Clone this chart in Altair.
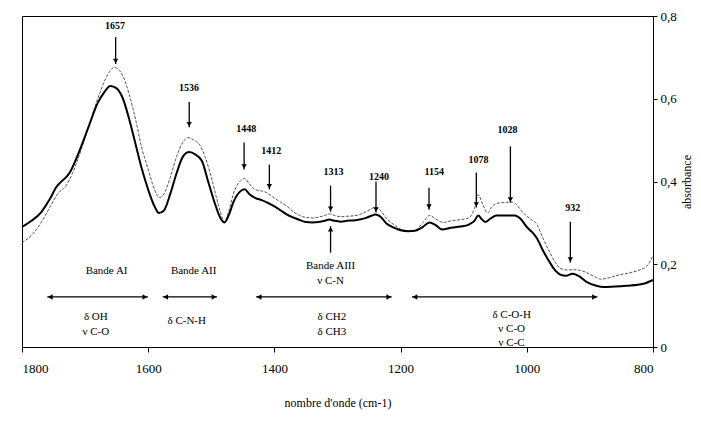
import altair as alt
import pandas as pd

# ---- spectra (wavenumber cm-1, absorbance) ----
wn_thick = [1800, 1785, 1770, 1755, 1745, 1739, 1725, 1710, 1695, 1680, 1670, 1660, 1650, 1640, 1630,
            1620, 1610, 1600, 1590, 1583, 1575, 1565, 1555, 1545, 1535, 1525, 1515, 1505, 1495, 1485,
            1479, 1472, 1465, 1455, 1447, 1440, 1430, 1420, 1410, 1400, 1390, 1380, 1370, 1360, 1350,
            1340, 1330, 1320, 1313, 1305, 1295, 1285, 1275, 1265, 1255, 1245, 1240, 1232, 1222, 1210,
            1200, 1188, 1177, 1165, 1154, 1145, 1134, 1120, 1105, 1092, 1083, 1077, 1072, 1066, 1058,
            1048, 1035, 1019, 1010, 1000, 990, 984, 975, 963, 955, 947, 938, 928, 918, 904,
            890, 878, 860, 842, 815, 800]
abs_thick = [0.290, 0.305, 0.325, 0.360, 0.388, 0.398, 0.420, 0.470, 0.530, 0.590, 0.615, 0.631, 0.625, 0.600, 0.550,
             0.490, 0.430, 0.380, 0.340, 0.324, 0.330, 0.370, 0.420, 0.460, 0.471, 0.465, 0.450, 0.400, 0.350, 0.310,
             0.301, 0.320, 0.350, 0.375, 0.381, 0.370, 0.360, 0.355, 0.348, 0.340, 0.330, 0.320, 0.313, 0.307, 0.302,
             0.301, 0.302, 0.305, 0.308, 0.305, 0.303, 0.305, 0.306, 0.308, 0.312, 0.318, 0.320, 0.315, 0.298, 0.288,
             0.282, 0.280, 0.281, 0.290, 0.301, 0.295, 0.284, 0.288, 0.291, 0.296, 0.305, 0.318, 0.310, 0.302, 0.310,
             0.318, 0.318, 0.318, 0.310, 0.290, 0.275, 0.263, 0.235, 0.203, 0.185, 0.175, 0.172, 0.177, 0.172, 0.156,
             0.148, 0.145, 0.146, 0.148, 0.153, 0.162]

wn_thin = [1800, 1785, 1770, 1755, 1742, 1730, 1720, 1710, 1695, 1680, 1670, 1660, 1654, 1648, 1640,
           1630, 1620, 1610, 1600, 1590, 1582, 1575, 1565, 1555, 1545, 1537, 1528, 1519, 1510, 1500,
           1490, 1482, 1479, 1472, 1465, 1455, 1447, 1440, 1430, 1420, 1412, 1400, 1390, 1380, 1370,
           1360, 1350, 1340, 1330, 1320, 1313, 1305, 1295, 1285, 1275, 1265, 1255, 1245, 1240, 1232,
           1222, 1210, 1200, 1188, 1177, 1165, 1154, 1145, 1132, 1120, 1105, 1092, 1083, 1077, 1070,
           1062, 1055, 1044, 1023, 1015, 1008, 995, 984, 975, 963, 955, 947, 935, 925, 915,
           904, 890, 883, 870, 852, 835, 820, 810, 800]
abs_thin = [0.252, 0.270, 0.300, 0.340, 0.373, 0.390, 0.420, 0.460, 0.530, 0.600, 0.640, 0.668, 0.676, 0.672, 0.655,
            0.610, 0.550, 0.480, 0.430, 0.380, 0.361, 0.370, 0.410, 0.460, 0.495, 0.506, 0.500, 0.490, 0.460, 0.410,
            0.350, 0.310, 0.302, 0.330, 0.370, 0.400, 0.407, 0.395, 0.380, 0.377, 0.373, 0.360, 0.350, 0.340, 0.327,
            0.318, 0.313, 0.312, 0.314, 0.318, 0.322, 0.318, 0.315, 0.316, 0.317, 0.320, 0.327, 0.335, 0.338, 0.330,
            0.310, 0.295, 0.285, 0.280, 0.282, 0.300, 0.318, 0.310, 0.301, 0.305, 0.308, 0.312, 0.335, 0.368, 0.345,
            0.324, 0.340, 0.348, 0.350, 0.342, 0.328, 0.310, 0.296, 0.265, 0.227, 0.205, 0.190, 0.186, 0.187, 0.185,
            0.179, 0.168, 0.164, 0.167, 0.175, 0.180, 0.187, 0.195, 0.220]

# ---- peak annotations ----
peak_labels = ["1657", "1536", "1448", "1412", "1313", "1240", "1154", "1078", "1028", "932"]
peak_label_wn = [1652.7, 1535.4, 1444.7, 1405, 1306.3, 1234.2, 1146.7, 1076.7, 1030.5, 927]
peak_label_abs = [0.777, 0.625, 0.526, 0.473, 0.422, 0.410, 0.422, 0.451, 0.524, 0.335]
arrow_wn = [1651.6, 1535, 1448, 1408, 1311, 1239, 1155, 1080, 1026, 931]
arrow_top = [0.749, 0.592, 0.494, 0.441, 0.390, 0.400, 0.385, 0.422, 0.485, 0.303]
arrow_tip = [0.684, 0.531, 0.429, 0.381, 0.327, 0.325, 0.332, 0.337, 0.349, 0.204]

# upward arrow (Bande AIII)
up_wn = [1311]
up_bottom = [0.228]
up_tip = [0.292]

# band ranges (double arrows)
band_left = [1760, 1577, 1429, 1182]
band_right = [1600.5, 1491, 1214, 888]
band_abs = [0.121, 0.121, 0.121, 0.121]

# band texts
text_lines = ["Bande AI", "Bande AII", "Bande AIII", "ν C-N", "δ OH", "ν C-O", "δ C-N-H",
              "δ CH2", "δ CH3", "δ C-O-H", "ν C-O", "ν C-C"]
text_wn = [1666, 1528, 1311, 1311, 1683, 1683, 1539, 1309, 1309, 1024, 1024, 1024]
text_abs = [0.183, 0.183, 0.195, 0.160, 0.073, 0.036, 0.062, 0.073, 0.036, 0.078, 0.044, 0.010]

x_ticks = [1800, 1600, 1400, 1200, 1000, 800]
y_ticks = [0, 0.2, 0.4, 0.6, 0.8]

FONT = "Liberation Serif"

xs = alt.Scale(domain=[800, 1800], reverse=True, nice=False, zero=False)
ys = alt.Scale(domain=[0, 0.8], nice=False, zero=False)

thick_df = pd.DataFrame({"wn": wn_thick, "a": abs_thick})
thin_df = pd.DataFrame({"wn": wn_thin, "a": abs_thin})

x_axis = alt.Axis(values=x_ticks, format="d", title="nombre d'onde (cm-1)", tickSize=5,
                  labelPadding=10, titlePadding=22, labelFontSize=13, titleFontSize=12,
                  labelFont=FONT, titleFont=FONT, titleFontWeight="normal", grid=False,
                  domainColor="black", tickColor="black", labelColor="black", titleColor="black")
y_axis = alt.Axis(values=y_ticks, orient="right", title="absorbance", tickSize=4, labelPadding=3,
                  labelExpr="datum.value == 0 ? '0' : replace(format(datum.value, '.1f'), '.', ',')",
                  titleX=33, titleY=165.5, titleAngle=270, titleAlign="center", titleBaseline="middle",
                  labelFontSize=13, titleFontSize=12, labelFont=FONT, titleFont=FONT,
                  titleFontWeight="normal", grid=False, domainColor="black",
                  tickColor="black", labelColor="black", titleColor="black")


def X(field):
    return alt.X(field, type="quantitative", scale=xs, axis=x_axis)


def Y(field):
    return alt.Y(field, type="quantitative", scale=ys, axis=y_axis)


thin_line = alt.Chart(thin_df).mark_line(color="#555555", strokeWidth=1, strokeDash=[3, 1.5],
                                         interpolate="monotone").encode(x=X("wn"), y=Y("a"))
thick_line = alt.Chart(thick_df).mark_line(color="black", strokeWidth=2,
                                           interpolate="monotone").encode(x=X("wn"), y=Y("a"))

arrows_df = pd.DataFrame({"wn": arrow_wn, "top": arrow_top, "tip": arrow_tip})
arrow_rules = alt.Chart(arrows_df).mark_rule(color="black", strokeWidth=1.3).encode(
    x=X("wn"), y=Y("top"), y2="tip:Q")
arrow_heads = alt.Chart(arrows_df).mark_point(shape="triangle-down", filled=True, color="black",
                                              size=28, opacity=1, yOffset=-3).encode(
    x=X("wn"), y=Y("tip"))

labels_df = pd.DataFrame({"wn": peak_label_wn, "a": peak_label_abs, "t": peak_labels})
peak_text = alt.Chart(labels_df).mark_text(font=FONT, fontSize=10, fontWeight="bold",
                                           color="black", baseline="middle").encode(
    x=X("wn"), y=Y("a"), text="t:N")

up_df = pd.DataFrame({"wn": up_wn, "bottom": up_bottom, "tip": up_tip})
up_rule = alt.Chart(up_df).mark_rule(color="black", strokeWidth=1.3).encode(
    x=X("wn"), y=Y("bottom"), y2="tip:Q")
up_head = alt.Chart(up_df).mark_point(shape="triangle-up", filled=True, color="black",
                                      size=28, opacity=1, yOffset=3).encode(
    x=X("wn"), y=Y("tip"))

band_df = pd.DataFrame({"l": band_left, "r": band_right, "a": band_abs})
band_rules = alt.Chart(band_df).mark_rule(color="black", strokeWidth=1.3).encode(
    x=X("l"), x2="r:Q", y=Y("a"))
band_lhead = alt.Chart(band_df).mark_point(shape="triangle-left", filled=True, color="black",
                                           size=30, opacity=1, xOffset=3).encode(
    x=X("l"), y=Y("a"))
band_rhead = alt.Chart(band_df).mark_point(shape="triangle-right", filled=True, color="black",
                                           size=30, opacity=1, xOffset=-3).encode(
    x=X("r"), y=Y("a"))

text_df = pd.DataFrame({"wn": text_wn, "a": text_abs, "t": text_lines})
band_text = alt.Chart(text_df).mark_text(font=FONT, fontSize=11, color="black",
                                         baseline="middle").encode(
    x=X("wn"), y=Y("a"), text="t:N")

chart = alt.layer(
    thin_line, thick_line, arrow_rules, arrow_heads, peak_text, up_rule, up_head,
    band_rules, band_lhead, band_rhead, band_text,
).properties(
    width=631, height=331, autosize="none", background="white",
    padding={"left": 14, "top": 8, "right": 40, "bottom": 66},
).configure_view(stroke="black", strokeWidth=1)

chart.save("out.html", embed_options={"renderer": "svg", "actions": False})
